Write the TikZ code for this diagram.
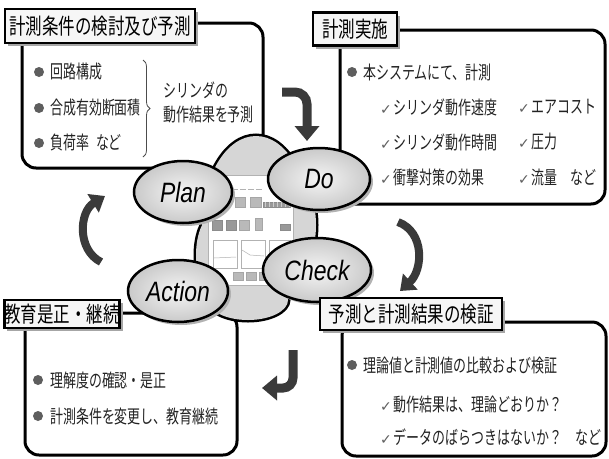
\documentclass[tikz,border=0pt]{standalone}
\usepackage{fontspec}
\usetikzlibrary{arrows.meta,shadows,shapes.geometric,decorations.pathreplacing}
\newfontfamily\jpfont[FakeStretch=0.75]{Noto Sans CJK JP}
\newfontfamily\jpbody[FakeStretch=0.7]{Noto Sans CJK JP}
\newfontfamily\pdcafont[FakeStretch=0.82]{Liberation Sans}
\newfontfamily\symfont{DejaVu Sans}
\definecolor{ink}{HTML}{222222}
\definecolor{dot}{HTML}{5E5E5E}
\definecolor{arrowgray}{HTML}{3A3A3A}
\definecolor{cloudgray}{HTML}{D6D6D6}
\newcommand\chk{{\symfont\fontsize{14}{14}\selectfont\color{dot}✓}\hspace{2pt}}

\tikzset{
  frame/.style={draw=black, line width=3pt, rounded corners=14pt},
  titlebox/.style={draw=black, line width=2.6pt, fill=gray!7, inner sep=0pt,
    font=\jpfont\fontsize{22}{22}\selectfont, text=black,
    drop shadow={shadow xshift=3pt, shadow yshift=-3pt, fill=gray!70, opacity=1}},
  body/.style={anchor=west, inner sep=0pt, font=\jpbody\fontsize{18.5}{18.5}\selectfont, text=ink},
  bulletdot/.style={circle, fill=dot, inner sep=0pt, minimum size=10pt},
  phase/.style={ellipse, draw=black, line width=2.5pt, inner sep=0pt,
    inner color=gray!8, outer color=gray!42,
    font=\pdcafont\itshape\fontsize{28}{28}\selectfont, text=black,
    drop shadow={shadow xshift=3pt, shadow yshift=-3pt, fill=gray!60, opacity=1}},
  bigarrow/.style={draw=arrowgray, line width=9pt, -{Triangle[width=24pt,length=15pt]}},
  curvearrow/.style={draw=arrowgray, line width=8pt, -{Triangle[width=21pt,length=14pt]}},
  scrbox/.style={fill=gray!55, draw=gray!70, line width=0.3pt},
  scrdark/.style={fill=gray!80, draw=gray!90, line width=0.3pt},
  scrchart/.style={draw=gray!60, line width=0.5pt, fill=white},
}

\begin{document}
\begin{tikzpicture}[x=1pt,y=-1pt]
\useasboundingbox (0,0) rectangle (609,458);

% frames of the four quadrants
\draw[frame] (22,23) rectangle (263,168);
\draw[frame] (340,30) rectangle (605,204);
\draw[frame] (25,313) rectangle (237,455);
\draw[frame] (342,322) rectangle (606,456);

% cycle arrows
\coordinate (a1s) at (282,92);
\coordinate (a1e) at (307,141);
\draw[bigarrow, rounded corners=12pt] (a1s) -- (307,92) -- (a1e);
\coordinate (a2s) at (398,222);
\coordinate (a2e) at (400,291);
\draw[curvearrow] (a2s) .. controls (425,232) and (423,270) .. (a2e);
\coordinate (a3s) at (293,350);
\coordinate (a3e) at (262,388);
\draw[bigarrow, rounded corners=10pt] (a3s) -- (293,388) -- (a3e);
\coordinate (a4s) at (101,262);
\coordinate (a4e) at (105,196);
\draw[curvearrow] (a4s) .. controls (77,250) and (79,212) .. (a4e);

% cloud behind the PDCA ellipses
\begin{scope}
  \draw[line width=5pt] (256,226) ellipse [x radius=54, y radius=90];
  \draw[line width=5pt] (214,255) ellipse [x radius=18, y radius=40];
  \draw[line width=5pt] (300,225) ellipse [x radius=16, y radius=40];
  \draw[line width=5pt] (248,300) ellipse [x radius=40, y radius=20];
  \fill[cloudgray] (256,226) ellipse [x radius=54, y radius=90];
  \fill[cloudgray] (214,255) ellipse [x radius=18, y radius=40];
  \fill[cloudgray] (300,225) ellipse [x radius=16, y radius=40];
  \fill[cloudgray] (248,300) ellipse [x radius=40, y radius=20];
\end{scope}

% screen of the measuring system
\draw[fill=white, draw=gray!60, line width=1pt] (208,175) rectangle (293,285);
\foreach \x in {232,240,248,256}
  \draw[gray!60, line width=1pt] (\x,189) -- (\x+6,189);
\draw[scrbox] (235,197) rectangle (245,207);
\draw[scrbox] (250,197) rectangle (261,207);
\draw[scrdark] (263,202) rectangle (290,207);
\foreach \x in {265,269,...,289}
  \draw[gray!40, line width=0.4pt] (\x,202) -- (\x,207);
\draw[scrdark] (212,220) rectangle (222,230);
\draw[scrdark] (226,220) rectangle (236,230);
\draw[scrbox] (239,220) rectangle (249,230);
\draw[scrbox] (255,218) rectangle (262,230);
\draw[scrdark] (280,224) rectangle (290,230);
\draw[scrchart] (213,240) rectangle (237,268);
\draw[scrchart] (241,240) rectangle (265,268);
\draw[scrchart] (269,240) rectangle (290,268);
\draw[gray!60, line width=0.5pt] (214,258) -- (236,257);
\draw[gray!60, line width=0.5pt] (242,250) -- (250,255) -- (264,256);
\draw[gray!60, line width=0.5pt] (270,262) -- (289,261);
\draw[scrbox] (233,272) rectangle (243,280);
\draw[scrbox] (246,272) rectangle (256,280);
\draw[scrbox] (259,272) rectangle (269,280);

% PDCA ellipses
\node[phase, minimum width=98pt, minimum height=62pt] (plan) at (183,192) {Plan};
\node[phase, minimum width=102pt, minimum height=62pt] (do) at (319,179) {Do};
\node[phase, minimum width=108pt, minimum height=64pt] (check) at (317,270) {Check};
\node[phase, minimum width=100pt, minimum height=62pt] (action) at (178,291) {Action};

% Plan: headings and contents
\node[titlebox, minimum width=190pt, minimum height=34pt] (t1) at (100,26) {計測条件の検討及び予測};
\node[bulletdot] (b11) at (39,72) {};
\node[body] (p11) at (50,72) {回路構成};
\node[bulletdot] (b12) at (39,108) {};
\node[body] (p12) at (50,108) {合成有効断面積};
\node[bulletdot] (b13) at (39,143) {};
\node[body] (p13) at (50,143) {負荷率\hspace{7pt}など};
\draw[gray!60!black, line width=0.8pt, decorate, decoration={brace, amplitude=7pt}]
  (143,60) -- (143,157);
\node[body] (p14) at (163,90) {シリンダの};
\node[body] (p15) at (163,115) {動作結果を予測};

% Do: headings and contents
\node[titlebox, minimum width=84pt, minimum height=33pt] (t2) at (355,29) {計測実施};
\node[bulletdot] (b21) at (352,72) {};
\node[body] (d1) at (363,72) {本システムにて、計測};
\node[body] (d2) at (380,107) {\chk シリンダ動作速度};
\node[body] (d3) at (518,107) {\chk エアコスト};
\node[body] (d4) at (380,142) {\chk シリンダ動作時間};
\node[body] (d5) at (518,142) {\chk 圧力};
\node[body] (d6) at (380,177) {\chk 衝撃対策の効果};
\node[body] (d7) at (518,177) {\chk 流量　など};

% Action: headings and contents
\node[titlebox, minimum width=109pt, minimum height=28pt] (t3) at (62,314) {教育是正・継続};
\node[bulletdot] (b31) at (38,380) {};
\node[body] (a1) at (50,380) {理解度の確認・是正};
\node[bulletdot] (b32) at (38,416) {};
\node[body] (a2) at (50,416) {計測条件を変更し、教育継続};

% Check: headings and contents
\node[titlebox, minimum width=182pt, minimum height=32pt] (t4) at (411,314) {予測と計測結果の検証};
\node[bulletdot] (b41) at (352,365) {};
\node[body] (c1) at (363,365) {理論値と計測値の比較および検証};
\node[body] (c2) at (380,405) {\chk 動作結果は、理論どおりか？};
\node[body] (c3) at (380,437) {\chk データのばらつきはないか？　など};
\end{tikzpicture}
\end{document}
